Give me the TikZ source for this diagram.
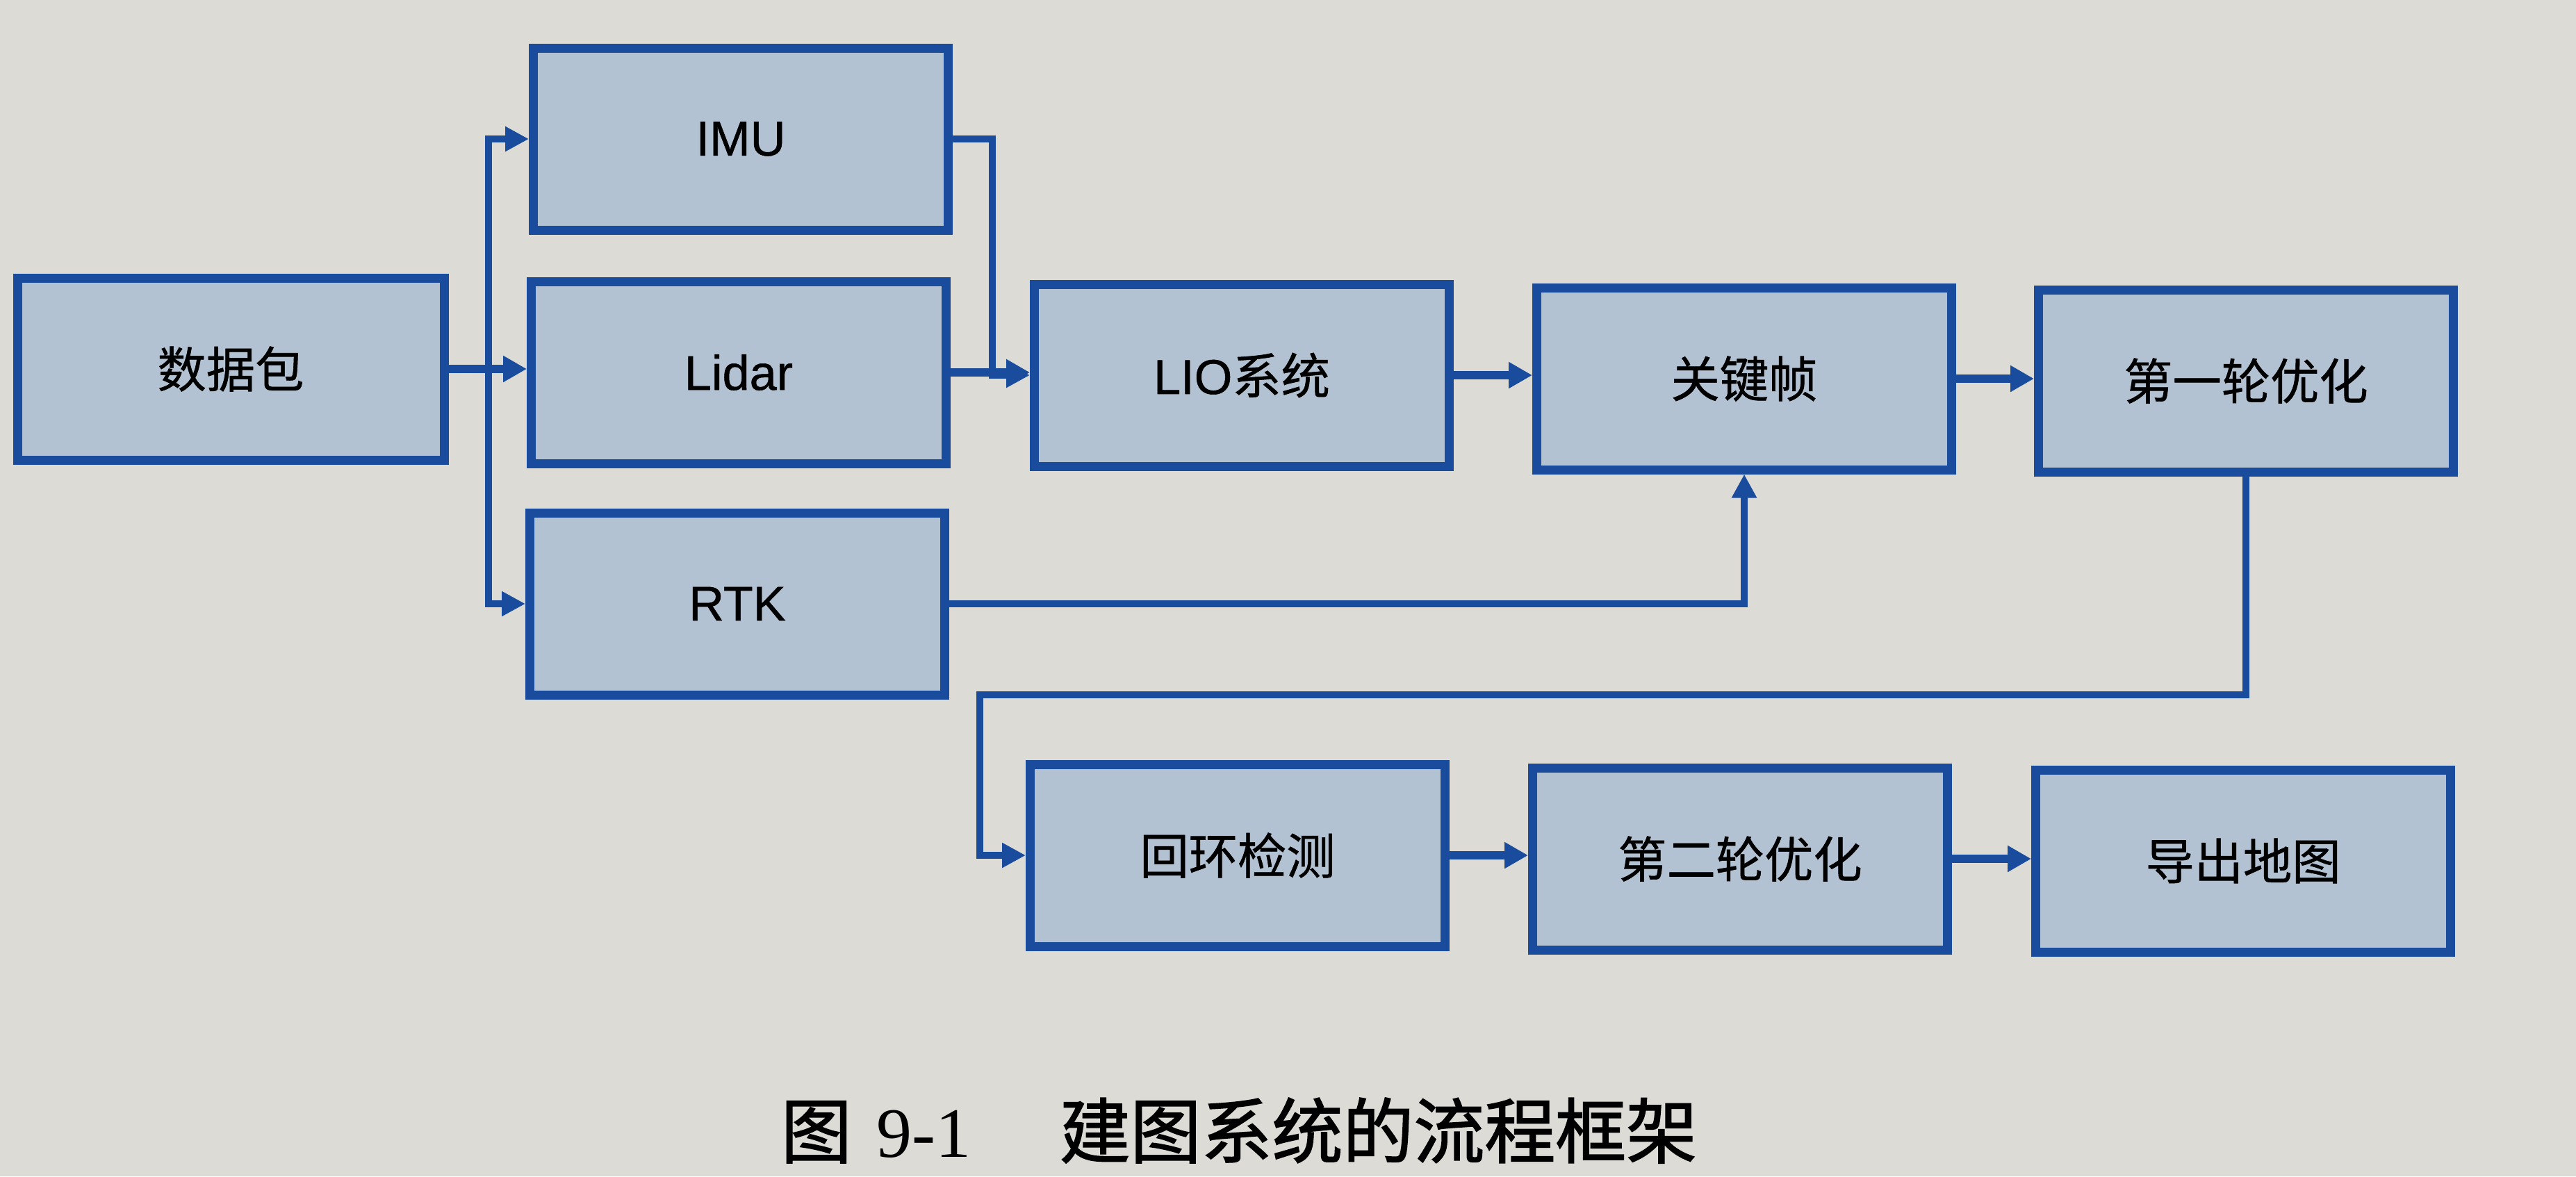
\documentclass[tikz,border=0pt]{standalone}
\usepackage{fontspec}
\newfontfamily\cjk[FakeBold=0.8]{Noto Sans CJK SC}
\newfontfamily\capcjk[FakeBold=1.6]{Noto Sans CJK SC}
\newfontfamily\lat[FakeBold=0.8]{Liberation Sans}
\newfontfamily\ser{Liberation Serif}
\usetikzlibrary{arrows.meta,calc}
\definecolor{paper}{HTML}{DCDBD5}
\definecolor{boxfill}{HTML}{B3C2D2}
\definecolor{boxline}{HTML}{1A4C9E}
\tikzset{
  stepbox/.style={draw=boxline, fill=boxfill, line width=0.13cm,
    minimum width=5.97cm, minimum height=2.62cm, inner sep=0pt,
    font=\fontsize{20pt}{24pt}\selectfont\cjk},
  mainarrow/.style={draw=boxline, line width=0.12cm,
    -{Triangle[length=0.34cm,width=0.36cm]}},
  thinarrow/.style={draw=boxline, line width=0.095cm,
    -{Triangle[length=0.34cm,width=0.34cm]}},
}
\begin{document}
\begin{tikzpicture}
\useasboundingbox (0,0) rectangle (37.07,-16.93);
\fill[paper] (0,0) rectangle (37.07,-16.93);

\node[stepbox, minimum width=6.14cm] (data) at (3.32,-5.31) {数据包};
\node[stepbox] (imu)   at (10.66,-2.00) {\lat IMU};
\node[stepbox] (lidar) at (10.63,-5.36) {\lat Lidar};
\node[stepbox] (rtk)   at (10.61,-8.69) {\lat RTK};
\node[stepbox] (lio)   at (17.87,-5.40) {{\lat LIO}系统};
\node[stepbox] (kf)    at (25.10,-5.45) {关键帧};
\node[stepbox] (f1)    at (32.32,-5.48) {第一轮优化};
\node[stepbox] (loop)  at (17.81,-12.31) {回环检测};
\node[stepbox] (f2)    at (25.04,-12.36) {第二轮优化};
\node[stepbox] (exp)   at (32.28,-12.39) {导出地图};

% branches from data package
\coordinate (br) at (7.03,-5.31);
\draw[mainarrow] (data.east) -- (data.east -| lidar.west);
\draw[thinarrow] (br) |- (imu.west);
\draw[thinarrow] (br) |- (rtk.west);

% IMU and Lidar into LIO
\coordinate (imuR) at (14.28,-2.00);
\draw[thinarrow] (imu.east) -- (imuR) |- (lio.west);
\draw[mainarrow] (lidar.east) -- (lidar.east -| lio.west);

% RTK into key frame
\draw[thinarrow] (rtk.east) -| (kf.south);

% first row
\draw[mainarrow] (lio.east) -- (lio.east -| kf.west);
\draw[mainarrow] (kf.east) -- (kf.east -| f1.west);

% feedback to loop detection
\coordinate (fb) at (14.10,-10.00);
\draw[thinarrow] (f1.south) |- (fb) |- (loop.west);

% second row
\draw[mainarrow] (loop.east) -- (loop.east -| f2.west);
\draw[mainarrow] (f2.east) -- (f2.east -| exp.west);

% caption
\node[font=\fontsize{29pt}{34pt}\selectfont\capcjk, anchor=center] (cap) at (17.83,-16.27)
  {图\hspace{0.35em}{\ser 9-1}\hspace{1.25em}建图系统的流程框架};
\end{tikzpicture}
\end{document}
